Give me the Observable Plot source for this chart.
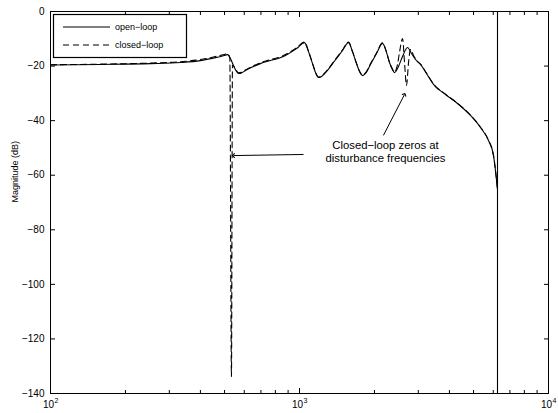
<!DOCTYPE html>
<html><head><meta charset="utf-8">
<script src="https://cdn.jsdelivr.net/npm/d3@7"></script>
<script src="https://cdn.jsdelivr.net/npm/@observablehq/plot@0.6"></script>
<style>
html,body{margin:0;padding:0;background:#fff;}
#chart{width:558px;height:413px;position:relative;}
</style></head><body><div id="chart"></div>
<script>
// ---- data (frequency in Hz, magnitude in dB) ----
const openFreq = [100,159,252,333,400,460,491,514,528,543,558.5,569,585,607,697,878,973,1047,1087,1128,1160,1192,1226,1284,1369,1488,1573,1632,1694,1742,1791,1841,1928,2039,2154,2236,2298,2364,2407,2475,2593,2715,2817,2924,3062,3236,3453,3858,4311,4862,5332,5741,6013,6240,6240,6240];
const openDb   = [-19.6,-19.4,-19.1,-18.7,-18.0,-16.9,-16.3,-15.8,-17.2,-19.8,-22.0,-22.7,-22.5,-21.6,-19.1,-16.1,-13.6,-11.4,-14.7,-19.1,-22.4,-24.2,-23.8,-22.0,-18.7,-14.3,-11.4,-14.7,-19.1,-22.0,-23.5,-22.7,-19.4,-15.4,-11.7,-15.0,-18.7,-21.3,-22.4,-20.9,-16.5,-13.2,-15.4,-17.6,-19.4,-22.7,-26.7,-30.4,-33.7,-38.1,-42.5,-47.3,-52.8,-65.2,-200,20];
const closedFreq = [100,159,252,333,400,460,491,514,525,533,538,558.5,569,585,607,697,878,973,1047,1087,1128,1160,1192,1226,1284,1369,1488,1573,1632,1694,1742,1791,1841,1928,2039,2154,2236,2298,2364,2407,2475,2521,2593,2641,2690,2741,2792,2871,2978,3062,3236,3453,3858,4311,4862,5332,5741,6013,6240,6240,6240];
const closedDb   = [-19.5,-19.3,-18.9,-18.4,-17.6,-16.5,-15.9,-15.5,-17.0,-133.8,-19.6,-21.7,-22.5,-22.3,-21.4,-18.8,-15.8,-13.3,-11.2,-14.6,-19.0,-22.3,-24.0,-23.6,-21.8,-18.5,-14.1,-11.2,-14.6,-19.0,-21.9,-23.3,-22.5,-19.2,-15.2,-11.5,-14.9,-18.6,-21.2,-22.2,-19.4,-15.0,-9.9,-18.7,-27.1,-18.7,-13.9,-16.1,-18.3,-19.3,-22.6,-26.6,-30.3,-33.6,-38.0,-42.4,-47.2,-52.7,-65.1,-200,20];
const seriesNames = ["open\u2212loop","closed\u2212loop"];
const yTicks = [0,-20,-40,-60,-80,-100,-120,-140];
const xMajor = [100,1000,10000];
const xMinor = [200,300,400,500,600,700,800,900,2000,3000,4000,5000,6000,7000,8000,9000];
const xBase = "10";
const xExponents = ["2","3","4"];
const yLabel = "Magnitude (dB)";
const noteText = "Closed\u2212loop zeros at\ndisturbance frequencies";
const noteFreq = 2215, noteDb = -51.1;
const arrowTailFreq = [1038, 2173], arrowTailDb = [-52.4, -45.4];
const arrowHeadFreq = [543, 2641],  arrowHeadDb = [-52.8, -30.4];

const open = openFreq.map((f,i)=>({f, db: openDb[i]}));
const closed = closedFreq.map((f,i)=>({f, db: closedDb[i]}));
// smooth body of each response, and the straight wrap-around at the end (last 3 points)
const openBody = open.slice(0, -2), openWrap = open.slice(-3);
const closedBody = closed.slice(0, -2), closedWrap = closed.slice(-3);
const arrows = arrowTailFreq.map((f,i)=>({f1:f, d1:arrowTailDb[i], f2:arrowHeadFreq[i], d2:arrowHeadDb[i]}));
const font = "'Liberation Sans', Arial, Helvetica, sans-serif";

const plot = Plot.plot({
  width: 558, height: 413,
  marginLeft: 50, marginRight: 10, marginTop: 11, marginBottom: 20,
  style: {fontFamily: font, fontSize: "10px", background: "white", color: "black", overflow: "visible"},
  x: {type: "log", domain: [100, 10000], label: null},
  y: {domain: [-140, 0], label: null},
  marks: [
    Plot.line(closedBody, {x: "f", y: "db", stroke: "black", strokeWidth: 1.1, strokeDasharray: "6,4", curve: "monotone-x", clip: true}),
    Plot.line(openBody, {x: "f", y: "db", stroke: "black", strokeWidth: 1.1, curve: "monotone-x", clip: true}),
    Plot.line(openWrap, {x: "f", y: "db", stroke: "black", strokeWidth: 1.1, clip: true}),
    Plot.frame({stroke: "black", strokeWidth: 1}),
    // inward ticks: positive size shifted back across the frame
    Plot.axisY(yTicks, {anchor: "left", tickSize: 5, dx: 5, fill: "none", label: null}),
    Plot.axisY(yTicks, {anchor: "left", tickSize: 0, tickPadding: 6, fontSize: 10, label: null,
      tickFormat: d => d === 0 ? "0" : "\u2212" + Math.abs(d)}),
    Plot.axisY(yTicks, {anchor: "right", tickSize: 5, dx: -5, fill: "none", label: null}),
    Plot.axisX(xMajor, {anchor: "bottom", tickSize: 5, dy: -5, fill: "none", label: null}),
    Plot.axisX(xMinor, {anchor: "bottom", tickSize: 3, dy: -3, fill: "none", label: null}),
    Plot.axisX(xMajor, {anchor: "top", tickSize: 5, dy: 5, fill: "none", label: null}),
    Plot.axisX(xMinor, {anchor: "top", tickSize: 3, dy: 3, fill: "none", label: null}),
    Plot.text(xMajor, {x: d => d, frameAnchor: "bottom", text: () => xBase, dx: -2, dy: 14, fontSize: 10, fill: "black"}),
    Plot.text(xMajor, {x: d => d, frameAnchor: "bottom", text: (d, i) => xExponents[i], textAnchor: "start", dx: 4, dy: 9, fontSize: 7, fill: "black"}),
    Plot.text([yLabel], {frameAnchor: "left", text: d => d, rotate: -90, dx: -35, fontSize: 9, fill: "black"}),
    Plot.text([noteText], {x: () => noteFreq, y: () => noteDb, text: d => d, fontSize: 11.3, lineHeight: 1.15, fill: "black"}),
    Plot.link(arrows, {x1: "f1", y1: "d1", x2: "f2", y2: "d2", stroke: "black", strokeWidth: 1, markerEnd: "arrow", ariaLabel: "note-arrow"})
  ]
});

// filled arrowheads
const svg = d3.select(plot);
const defs = svg.append("defs");
defs.append("marker").attr("id", "filledHead").attr("viewBox", "-10 -5 11 10")
  .attr("markerWidth", 11).attr("markerHeight", 10).attr("markerUnits", "userSpaceOnUse")
  .attr("refX", 0).attr("refY", 0).attr("orient", "auto")
  .append("path").attr("d", "M-9,-3.6L0,0L-9,3.6L-6.5,0Z").attr("fill", "black");
svg.selectAll('[aria-label="note-arrow"] path').attr("marker-end", "url(#filledHead)");

// legend
const lg = svg.append("g").attr("font-family", font).attr("font-size", 9).attr("text-anchor", "start");
lg.append("rect").attr("x", 53.5).attr("y", 14.5).attr("width", 133).attr("height", 43)
  .attr("fill", "white").attr("stroke", "black").attr("stroke-width", 1.2);
[27, 45].forEach((yy, i) => {
  lg.append("line").attr("x1", 63).attr("x2", 110).attr("y1", yy).attr("y2", yy)
    .attr("stroke", "black").attr("stroke-width", 1.1).attr("stroke-dasharray", i ? "6,4" : null);
  lg.append("text").attr("x", 115).attr("y", yy).attr("dy", "0.35em").attr("text-anchor", "start")
    .attr("fill", "black").text(seriesNames[i]);
});

document.getElementById("chart").appendChild(plot);
</script></body></html>
